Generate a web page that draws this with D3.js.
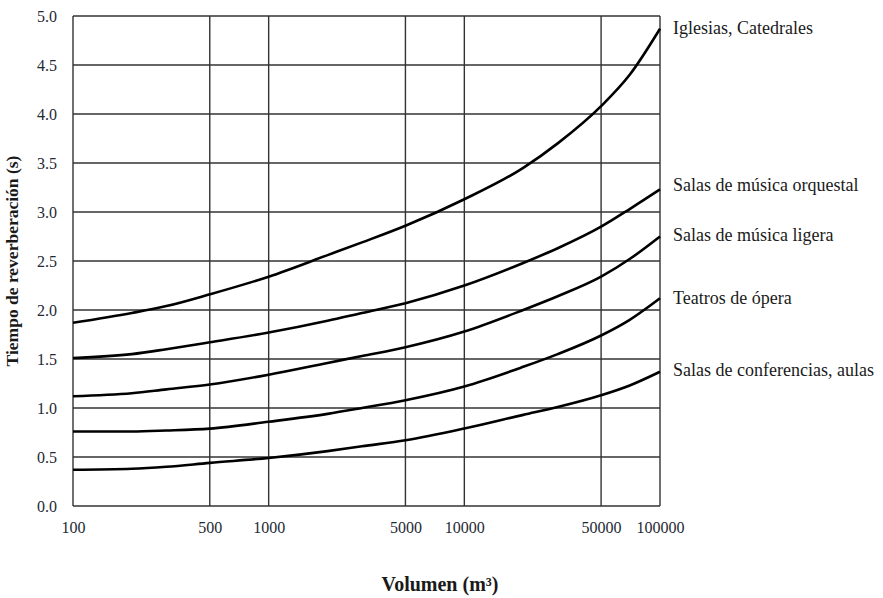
<!DOCTYPE html>
<html>
<head>
<meta charset="utf-8">
<script src="https://cdn.jsdelivr.net/npm/d3@7"></script>
<style>
  body { margin: 0; background: #fff; }
  svg text { font-family: "Liberation Serif", "Times New Roman", serif; }
</style>
</head>
<body>
<svg id="chart" width="883" height="598"></svg>
<script>
// volumes sampled along each curve (m3)
var volumes = [100, 200, 300, 500, 1000, 2000, 3000, 5000, 10000, 20000, 30000, 50000, 70000, 100000];

var iglesias   = [1.87, 1.97, 2.04, 2.16, 2.34, 2.56, 2.69, 2.86, 3.13, 3.45, 3.70, 4.08, 4.40, 4.87];
var orquestal  = [1.51, 1.55, 1.60, 1.67, 1.77, 1.89, 1.97, 2.07, 2.25, 2.48, 2.63, 2.85, 3.03, 3.23];
var ligera     = [1.12, 1.15, 1.19, 1.24, 1.34, 1.46, 1.53, 1.62, 1.78, 2.00, 2.14, 2.34, 2.52, 2.75];
var opera      = [0.76, 0.76, 0.77, 0.79, 0.86, 0.94, 1.00, 1.08, 1.22, 1.42, 1.55, 1.74, 1.90, 2.12];
var aulas      = [0.37, 0.38, 0.40, 0.44, 0.49, 0.56, 0.61, 0.67, 0.79, 0.93, 1.01, 1.13, 1.23, 1.37];

var seriesNames = ["Iglesias, Catedrales", "Salas de música orquestal", "Salas de música ligera",
                   "Teatros de ópera", "Salas de conferencias, aulas"];
// label heights (value units) for the right-hand names
var labelAt = [4.88, 3.27, 2.76, 2.12, 1.39];

var xTicks = [100, 500, 1000, 5000, 10000, 50000, 100000];
var yTicks = [0, 0.5, 1, 1.5, 2, 2.5, 3, 3.5, 4, 4.5, 5];

var margin = {left: 73, top: 16, right: 223, bottom: 92};
var W = 883, H = 598;
var serif = "'Liberation Serif', 'Times New Roman', serif";

var svg = d3.select("#chart");

var x = d3.scaleLog()
    .domain([100, 100000])
    .range([margin.left, W - margin.right]);
var y = d3.scaleLinear()
    .domain([0, 5])
    .range([H - margin.bottom, margin.top]);

var grid = svg.append("g");

// vertical grid
grid.selectAll("line.vx")
    .data(xTicks)
    .enter().append("line")
    .attr("x1", function(d) { return x(d); })
    .attr("x2", function(d) { return x(d); })
    .attr("y1", y(0))
    .attr("y2", y(5))
    .attr("stroke", "#333")
    .attr("stroke-width", 1.4);

// horizontal grid
grid.selectAll("line.hy")
    .data(yTicks)
    .enter().append("line")
    .attr("x1", x(100))
    .attr("x2", x(100000))
    .attr("y1", function(d) { return y(d); })
    .attr("y2", function(d) { return y(d); })
    .attr("stroke", "#333")
    .attr("stroke-width", 1.4);

// y axis labels
var yAxis = d3.axisLeft(y)
    .tickValues(yTicks)
    .tickSize(0)
    .tickPadding(16)
    .tickFormat(d3.format(".1f"));

svg.append("g")
    .attr("transform", "translate(" + margin.left + ",0)")
    .call(yAxis)
    .call(function(g) { g.select(".domain").remove(); })
    .selectAll("text")
    .style("font-family", serif)
    .style("font-size", "16px")
    .attr("fill", "#1d2a33");

// x axis labels
var xAxis = d3.axisBottom(x)
    .tickValues(xTicks)
    .tickSize(0)
    .tickPadding(16)
    .tickFormat(d3.format("d"));

svg.append("g")
    .attr("transform", "translate(0," + y(0) + ")")
    .call(xAxis)
    .call(function(g) { g.select(".domain").remove(); })
    .selectAll("text")
    .style("font-family", serif)
    .style("font-size", "16px")
    .attr("fill", "#1d2a33");

var line = d3.line()
    .x(function(d) { return x(d[0]); })
    .y(function(d) { return y(d[1]); })
    .curve(d3.curveMonotoneX);

var allSeries = [iglesias, orquestal, ligera, opera, aulas];

svg.selectAll("path.curve")
    .data(allSeries)
    .enter().append("path")
    .attr("class", "curve")
    .attr("d", function(vals) {
        return line(vals.map(function(v, i) { return [volumes[i], v]; }));
    })
    .attr("fill", "none")
    .attr("stroke", "#000")
    .attr("stroke-width", 2.6);

// series names at right
svg.selectAll("text.name")
    .data(seriesNames)
    .enter().append("text")
    .attr("class", "name")
    .attr("x", x(100000) + 13)
    .attr("y", function(d, i) { return y(labelAt[i]); })
    .attr("dy", "0.32em")
    .style("font-family", serif)
    .style("font-size", "18px")
    .attr("fill", "#1a1a1a")
    .text(function(d) { return d; });

// axis titles
svg.append("text")
    .attr("x", 440)
    .attr("y", 591)
    .attr("text-anchor", "middle")
    .style("font-family", serif)
    .style("font-weight", "bold")
    .style("font-size", "20px")
    .attr("fill", "#1a1a1a")
    .text("Volumen (m³)");

svg.append("text")
    .attr("transform", "translate(18," + ((y(0) + y(5)) / 2) + ") rotate(-90)")
    .attr("text-anchor", "middle")
    .style("font-family", serif)
    .style("font-weight", "bold")
    .style("font-size", "17.5px")
    .attr("fill", "#1a1a1a")
    .text("Tiempo de reverberación (s)");
</script>
</body>
</html>
